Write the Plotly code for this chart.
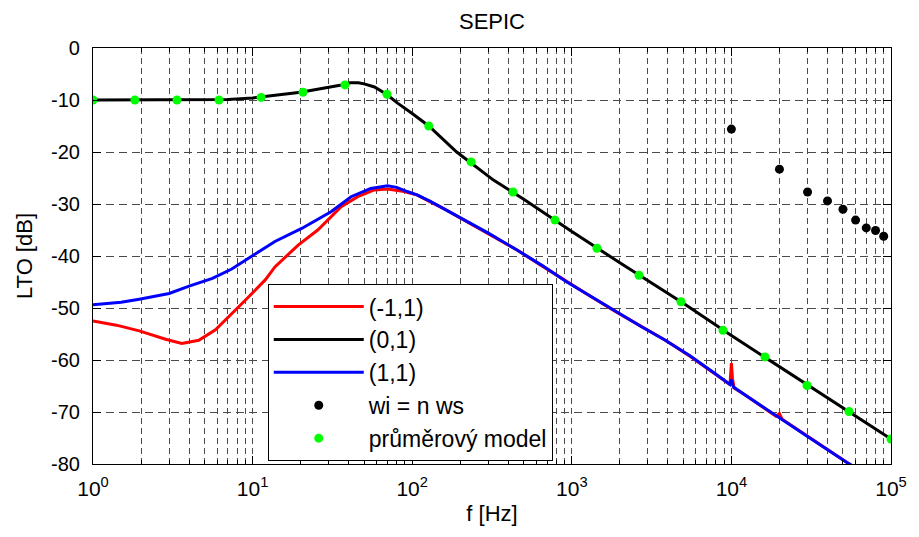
import plotly.graph_objects as go

# ---- data ----
f_red = [1, 1.4, 1.95, 2.85, 3.6, 4.6, 5.85, 7.1, 9, 12, 13.8, 19.3, 25.6, 35.9, 45.6, 57.9, 70, 89,
         108, 130, 160, 220, 300, 451, 650, 921, 1300, 1884, 2700, 3855, 5500, 7890, 9550, 9800,
         10000, 10150, 10400, 12130, 19000, 20000, 20800, 30000, 53000, 100000]
db_red = [-52.5, -53.3, -54.4, -56.0, -56.8, -56.2, -54.2, -51.7, -48.5, -44.6, -42.1, -37.9, -35.0,
          -30.5, -28.6, -27.3, -27.1, -27.6, -28.3, -29.6, -31.0, -33.4, -35.7, -38.8, -41.9, -44.9,
          -47.7, -50.7, -53.5, -56.2, -59.3, -62.6, -64.5, -64.7, -60.6, -63.5, -65.4, -66.7, -70.8,
          -70.3, -71.4, -74.7, -79.7, -85.2]

f_black = [1, 2, 3, 5, 7, 10, 15, 20, 25, 30, 36, 41, 46, 50, 58, 69, 81, 100, 127, 190, 323, 500,
           1000, 2000, 5000, 10000, 20000, 50000, 100000]
db_black = [-10, -10, -10, -10, -9.9, -9.6, -9.0, -8.5, -8.0, -7.6, -7.1, -6.7, -6.7, -6.9, -7.5,
            -8.9, -10.6, -12.6, -15.0, -20.0, -25.4, -29.1, -35.3, -41.3, -49.1, -55.3, -61.3,
            -69.2, -75.2]

f_blue = [1, 1.5, 1.95, 3, 4, 5.6, 7.4, 9.9, 13.8, 20.3, 31, 41.4, 55, 70, 80, 93, 108, 130, 160, 220,
          300, 451, 650, 921, 1300, 1884, 2700, 3855, 5500, 7890, 9550, 9800, 10000, 10300, 12130,
          20000, 30000, 53000, 100000]
db_blue = [-49.4, -48.9, -48.3, -47.2, -45.8, -44.3, -42.5, -40.1, -37.2, -34.7, -31.5, -28.6, -27.0,
           -26.5, -26.8, -27.6, -28.3, -29.5, -31.0, -33.4, -35.6, -38.8, -41.8, -44.9, -47.7, -50.7,
           -53.5, -56.2, -59.2, -62.6, -64.5, -64.7, -63.8, -65.2, -66.7, -71.2, -74.7, -79.7, -85.2]

f_harm = [10000, 20000, 30000, 40000, 50000, 60000, 70000, 80000, 90000]
db_harm = [-15.6, -23.3, -27.7, -29.4, -31.0, -33.1, -34.6, -35.1, -36.2]

f_avg = [1, 1.83, 3.36, 6.16, 11.3, 20.7, 37.9, 69.5, 127, 234, 428, 785, 1438, 2637, 4833, 8859,
         16238, 29764, 54556, 100000]
db_avg = [-10, -10, -10, -10.0, -9.5, -8.5, -7.1, -8.9, -15.0, -21.9, -27.7, -33.1, -38.5, -43.7,
          -48.8, -54.3, -59.4, -64.9, -69.9, -75.2]

x_major = [1, 10, 100, 1000, 10000, 100000]
x_major_text = ["10<sup>0</sup>", "10<sup>1</sup>", "10<sup>2</sup>", "10<sup>3</sup>",
                "10<sup>4</sup>", "10<sup>5</sup>"]
x_minor = [m * d for d in [1, 10, 100, 1000, 10000] for m in range(2, 10)]
y_ticks = [-80, -70, -60, -50, -40, -30, -20, -10, 0]
y_ticktext = ["-80", "-70", "-60", "-50", "-40", "-30", "-20", "-10", "0"]

FONT = "Liberation Sans, Arial, Helvetica, sans-serif"
GRID = "#4a4a4a"
LW = 3

fig = go.Figure()
fig.add_trace(go.Scatter(x=f_red, y=db_red, mode="lines", name="(-1,1)",
                         line=dict(color="#ff0000", width=LW), legendgroup="a"))
fig.add_trace(go.Scatter(x=f_black, y=db_black, mode="lines", name="(0,1)",
                         line=dict(color="#000000", width=LW), legendgroup="b"))
fig.add_trace(go.Scatter(x=f_blue, y=db_blue, mode="lines", name="(1,1)",
                         line=dict(color="#0000ff", width=LW), legendgroup="c"))
fig.add_trace(go.Scatter(x=f_harm, y=db_harm, mode="markers", name="wi = n ws",
                         marker=dict(color="#000000", size=9), legendgroup="d"))
fig.add_trace(go.Scatter(x=f_avg, y=db_avg, mode="markers", name="průměrový model",
                         marker=dict(color="#00ff00", size=9), legendgroup="e"))

fig.update_layout(
    width=919, height=537,
    margin=dict(l=93, r=22, t=48, b=73),
    paper_bgcolor="white", plot_bgcolor="white",
    font=dict(family=FONT, color="black", size=20),
    title=dict(text="SEPIC", x=0.5, xref="paper", y=1 - 21 / 537, yref="container",
               xanchor="center", yanchor="middle", font=dict(size=22, family=FONT)),
    showlegend=True,
    legend=dict(x=0.219, y=0.007, xanchor="left", yanchor="bottom",
                bgcolor="white", bordercolor="black", borderwidth=1,
                font=dict(size=23, family=FONT), itemwidth=90, tracegroupgap=2,
                traceorder="normal"),
)

fig.update_xaxes(
    type="log", range=[0, 5],
    tickmode="array", tickvals=x_major, ticktext=x_major_text,
    tickfont=dict(size=21),
    ticks="inside", ticklen=8, tickwidth=1, tickcolor="black",
    showline=True, linecolor="black", linewidth=1.2, mirror="allticks",
    showgrid=True, gridcolor=GRID, gridwidth=1, griddash="6px,4px",
    minor=dict(tickmode="array", tickvals=x_minor, ticks="inside", ticklen=4,
               tickcolor="black", showgrid=True, gridcolor=GRID, gridwidth=1,
               griddash="6px,4px"),
    zeroline=False, ticklabelstandoff=6,
    title=dict(text="f [Hz]", font=dict(size=22), standoff=6),
)
fig.update_yaxes(
    range=[-80, 0], tickmode="array", tickvals=y_ticks, ticktext=y_ticktext,
    tickfont=dict(size=20),
    ticks="inside", ticklen=8, tickwidth=1, tickcolor="black",
    showline=True, linecolor="black", linewidth=1.2, mirror="allticks",
    showgrid=True, gridcolor=GRID, gridwidth=1, griddash="8px,5px",
    zeroline=False, ticklabelstandoff=8,
    title=dict(text="LTO [dB]", font=dict(size=22), standoff=12),
)

fig.write_html("out.html")
